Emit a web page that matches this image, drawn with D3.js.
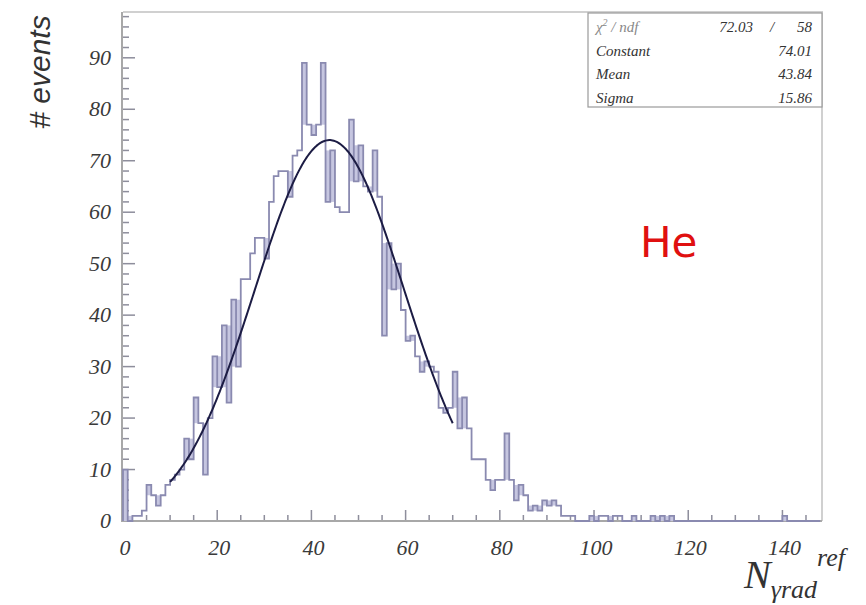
<!DOCTYPE html>
<html>
<head>
<meta charset="utf-8">
<script src="https://cdn.jsdelivr.net/npm/d3@7"></script>
<style>
  body { margin: 0; background: #fff; }
  svg { display: block; }
</style>
</head>
<body>
<div id="svgdiv"></div>
<script>
// histogram contents, one entry per unit bin starting at 0
var binCounts = [
  10, 0, 1, 1, 2, 7, 5, 3, 5, 7,
  8, 9, 10, 16, 12, 24, 19, 9, 20, 32,
  26, 38, 23, 43, 30, 47, 47, 52, 55, 55,
  51, 62, 67, 68, 68, 63, 71, 72, 89, 77,
  75, 77, 89, 62, 72, 61, 60, 60, 78, 66,
  73, 65, 64, 72, 63, 36, 54, 45, 50, 41,
  35, 36, 32, 29, 31, 30, 29, 22, 21, 22,
  29, 18, 24, 18, 12, 12, 12, 8, 6, 8,
  8, 17, 8, 4, 7, 5, 2, 3, 2, 4,
  3, 4, 3, 1, 1, 1, 0, 0, 0, 1,
  0, 1, 1, 0, 1, 1, 0, 0, 1, 0,
  0, 0, 1, 0, 1, 0, 1, 0, 0, 0,
  0, 0, 0, 0, 0, 0, 0, 0, 0, 0,
  0, 0, 0, 0, 0, 0, 0, 0, 0, 0,
  1, 0, 0, 0, 0, 0, 0, 0
];

// gaussian fit results
var fitNames = ["Constant", "Mean", "Sigma"];
var fitValues = [74.01, 43.84, 15.86];
var fitRange = [10, 70];
var chi2 = "72.03";
var ndf = "58";

var xTicks = [0, 20, 40, 60, 80, 100, 120, 140];
var yTicks = [0, 10, 20, 30, 40, 50, 60, 70, 80, 90];
var xMinorStep = 5;
var yMinorStep = 2;

var svgWidth = 866;
var svgHeight = 605;

var frame = { left: 123, right: 822, top: 12, bottom: 521 };

var svg = d3.select("#svgdiv")
    .append("svg")
    .attr("width", svgWidth)
    .attr("height", svgHeight);

var x = d3.scaleLinear()
    .domain([0, 148.4])
    .range([frame.left, frame.right]);

var y = d3.scaleLinear()
    .domain([0, 98.9])
    .range([frame.bottom, frame.top]);

var axisColor = "#a8a8a8";
var tickColor = "#8e8e9c";
var histColor = "#8a8ab0";

// frame (top and right sides)
svg.append("path")
    .attr("d", `M${frame.left},${frame.top}H${frame.right}V${frame.bottom}`)
    .attr("fill", "none")
    .attr("stroke", "#d0d0d0")
    .attr("stroke-width", 2);

// tick marks, pointing into the plot (thin filled rects)
svg.append("g").selectAll("rect")
    .data(d3.range(0, 148, xMinorStep))
    .enter()
    .append("rect")
        .attr("x", d => x(d) - 0.75)
        .attr("width", 1.5)
        .attr("y", d => frame.bottom - (d % 20 === 0 ? 11 : 6))
        .attr("height", d => (d % 20 === 0 ? 11 : 6))
        .attr("fill", tickColor);

svg.append("g").selectAll("rect")
    .data(d3.range(0, 99, yMinorStep))
    .enter()
    .append("rect")
        .attr("x", frame.left)
        .attr("width", d => (d % 10 === 0 ? 12 : 6))
        .attr("y", d => y(d) - 0.75)
        .attr("height", 1.5)
        .attr("fill", tickColor);

// axis lines
svg.append("path")
    .attr("d", `M${frame.left - 1},${frame.top}V${frame.bottom}H${frame.right}`)
    .attr("fill", "none")
    .attr("stroke", axisColor)
    .attr("stroke-width", 2);

// tick labels
svg.append("g").selectAll("text")
    .data(xTicks)
    .enter()
    .append("text")
        .attr("x", d => x(d) + 2)
        .attr("y", frame.bottom + 34)
        .attr("text-anchor", "middle")
        .attr("font-family", "Liberation Serif, serif")
        .attr("font-style", "italic")
        .attr("font-size", "22px")
        .attr("fill", "#3a3a3a")
        .text(d => d);

svg.append("g").selectAll("text")
    .data(yTicks)
    .enter()
    .append("text")
        .attr("x", frame.left - 12)
        .attr("y", d => y(d) + 7)
        .attr("text-anchor", "end")
        .attr("font-family", "Liberation Serif, serif")
        .attr("font-style", "italic")
        .attr("font-size", "22px")
        .attr("fill", "#3a3a3a")
        .text(d => d);

// shade the narrow spikes / notches the way the blurred drawing looks
var spikeGroup = svg.append("g");
binCounts.forEach(function(v, i) {
    var left = i === 0 ? 0 : binCounts[i - 1];
    var right = i === binCounts.length - 1 ? 0 : binCounts[i + 1];
    var near;
    if (v > left && v > right) near = Math.max(left, right);
    else if (v < left && v < right) near = Math.min(left, right);
    else return;
    spikeGroup.append("rect")
        .attr("x", x(i))
        .attr("width", x(i + 1) - x(i))
        .attr("y", y(Math.max(v, near)))
        .attr("height", Math.abs(y(v) - y(near)))
        .attr("fill", "#c6c6e0");
});

// step histogram
var steps = [[0, 0]];
binCounts.forEach(function(v, i) { steps.push([i, v]); });
steps.push([binCounts.length, binCounts[binCounts.length - 1]]);

var stepLine = d3.line()
    .x(d => x(d[0]))
    .y(d => y(d[1]))
    .curve(d3.curveStepAfter);

svg.append("path")
    .datum(steps)
    .attr("d", stepLine)
    .attr("fill", "none")
    .attr("stroke", histColor)
    .attr("stroke-width", 1.8);

// fitted gaussian
function gaus(v) {
    var t = (v - fitValues[1]) / fitValues[2];
    return fitValues[0] * Math.exp(-0.5 * t * t);
}
var fitPoints = d3.range(fitRange[0], fitRange[1] + 0.01, 0.25).map(v => [v, gaus(v)]);
svg.append("path")
    .datum(fitPoints)
    .attr("d", d3.line().x(d => x(d[0])).y(d => y(d[1])))
    .attr("fill", "none")
    .attr("stroke", "#1c1c44")
    .attr("stroke-width", 2);

// stats box
var box = { left: 588, top: 13, width: 234, rowH: 23.5 };
svg.append("rect")
    .attr("x", box.left)
    .attr("y", box.top)
    .attr("width", box.width)
    .attr("height", box.rowH * 4)
    .attr("fill", "#fff")
    .attr("stroke", "#9a9a9a")
    .attr("stroke-width", 1.2);

var statFont = "Liberation Serif, serif";
var chiRow = svg.append("text")
    .attr("x", box.left + 8)
    .attr("y", box.top + 19)
    .attr("font-family", statFont)
    .attr("font-style", "italic")
    .attr("font-size", "15px")
    .attr("fill", "#888");
chiRow.append("tspan").text("χ");
chiRow.append("tspan").attr("dy", -6).attr("font-size", "10px").text("2");
chiRow.append("tspan").attr("dy", 6).text(" / ndf");

svg.append("text")
    .attr("x", 753).attr("y", box.top + 19)
    .attr("text-anchor", "end")
    .attr("font-family", statFont).attr("font-style", "italic")
    .attr("font-size", "15px").attr("fill", "#333")
    .text(chi2);
svg.append("text")
    .attr("x", 772).attr("y", box.top + 19)
    .attr("text-anchor", "middle")
    .attr("font-family", statFont).attr("font-style", "italic")
    .attr("font-size", "15px").attr("fill", "#333")
    .text("/");
svg.append("text")
    .attr("x", 812).attr("y", box.top + 19)
    .attr("text-anchor", "end")
    .attr("font-family", statFont).attr("font-style", "italic")
    .attr("font-size", "15px").attr("fill", "#333")
    .text(ndf);

fitNames.forEach(function(name, i) {
    var base = box.top + 19 + (i + 1) * box.rowH;
    svg.append("text")
        .attr("x", box.left + 8).attr("y", base)
        .attr("font-family", statFont).attr("font-style", "italic")
        .attr("font-size", "15px").attr("fill", "#333")
        .text(name);
    svg.append("text")
        .attr("x", 812).attr("y", base)
        .attr("text-anchor", "end")
        .attr("font-family", statFont).attr("font-style", "italic")
        .attr("font-size", "15px").attr("fill", "#333")
        .text(fitValues[i].toFixed(2));
});

// "He" label
svg.append("text")
    .attr("x", 640)
    .attr("y", 257)
    .attr("font-family", "DejaVu Sans, sans-serif")
    .attr("font-size", "42px")
    .attr("fill", "#e01010")
    .text("He");

// axis titles
svg.append("text")
    .attr("transform", "translate(50, 72) rotate(-90)")
    .attr("text-anchor", "middle")
    .attr("font-family", "Liberation Sans, Arial, sans-serif")
    .attr("font-style", "italic")
    .attr("font-size", "30px")
    .attr("fill", "#333")
    .text("# events");

var xTitle = svg.append("text")
    .attr("x", 744)
    .attr("y", 588)
    .attr("font-family", "Liberation Serif, serif")
    .attr("font-style", "italic")
    .attr("font-size", "40px")
    .attr("fill", "#333");
xTitle.append("tspan").text("N");
xTitle.append("tspan").attr("dy", 10).attr("font-size", "26px").text("γrad");
xTitle.append("tspan").attr("dy", -32).attr("font-size", "26px").text("ref");
</script>
</body>
</html>
